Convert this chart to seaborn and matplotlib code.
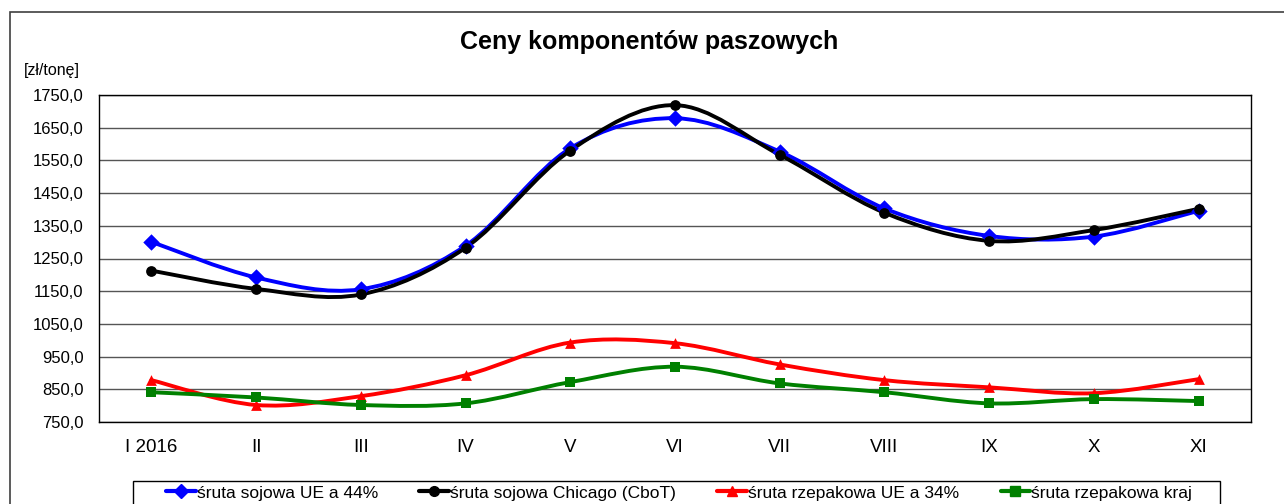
import matplotlib
matplotlib.use("Agg")
import matplotlib.pyplot as plt
import numpy as np
import seaborn as sns
from matplotlib.path import Path
from matplotlib.patches import PathPatch, Rectangle
from matplotlib.lines import Line2D

# monthly prices of feed components [zł/tonę]
months = ["I 2016", "II", "III", "IV", "V", "VI", "VII", "VIII", "IX", "X", "XI"]
soja_ue = [1301, 1192, 1156, 1289, 1587, 1679, 1577, 1403, 1319, 1317, 1396]
soja_chicago = [1213, 1157, 1140, 1283, 1580, 1719, 1567, 1390, 1304, 1337, 1402]
rzepak_ue = [878, 802, 829, 893, 993, 991, 926, 878, 856, 838, 881]
rzepak_kraj = [841, 825, 802, 807, 872, 919, 868, 841, 807, 820, 814]

series_names = ["śruta sojowa UE a 44%", "śruta sojowa Chicago (CboT)",
                "śruta rzepakowa UE a 34%", "śruta rzepakowa kraj"]
series_colors = ["#0000FF", "#000000", "#FF0000", "#008000"]
series_markers = ["D", "o", "^", "s"]
y_ticks = [750, 850, 950, 1050, 1150, 1250, 1350, 1450, 1550, 1650, 1750]

sns.set_style("white")
plt.rcParams["font.family"] = ["Liberation Sans", "DejaVu Sans"]
plt.rcParams["text.color"] = "black"
plt.rcParams["xtick.color"] = "black"
plt.rcParams["ytick.color"] = "black"


# Excel-like smoothed line: bezier through the data points
def smooth_path(xs, ys):
    pts = np.column_stack([xs, ys]).astype(float)
    n = len(pts)
    verts = [pts[0]]
    codes = [Path.MOVETO]
    for i in range(n - 1):
        p0 = pts[max(i - 1, 0)]
        p1 = pts[i]
        p2 = pts[i + 1]
        p3 = pts[min(i + 2, n - 1)]
        verts += [p1 + (p2 - p0) / 6, p2 - (p3 - p1) / 6, p2]
        codes += [Path.CURVE4] * 3
    return Path(verts, codes)


fig = plt.figure(figsize=(12.84, 5.04), dpi=100)
ax = fig.add_axes([99 / 1284, 1 - 422 / 504, (1251 - 99) / 1284, (422 - 95) / 504])

x = np.arange(len(months))
all_series = [soja_ue, soja_chicago, rzepak_ue, rzepak_kraj]
for vals, name, col, mk in zip(all_series, series_names, series_colors, series_markers):
    ax.add_patch(PathPatch(smooth_path(x, vals), facecolor="none", edgecolor=col,
                           lw=2.8, zorder=3, capstyle="round", joinstyle="round"))
    ms = 70 if mk == "D" else 60
    sns.scatterplot(x=x, y=vals, ax=ax, marker=mk, color=col, s=ms,
                    edgecolor=col, linewidth=0, zorder=4, legend=False)

ax.set_xlim(-0.5, 10.5)
ax.set_ylim(750, 1750)
ax.set_yticks(y_ticks)
ax.set_yticklabels([f"{v:.1f}".replace(".", ",") for v in y_ticks])
ax.set_xticks(np.arange(-0.5, 11, 1))
ax.set_xticklabels([])
ax.set_xticks(x, minor=True)
ax.set_xticklabels(months, minor=True)
ax.tick_params(axis="x", which="major", direction="out", length=5, width=1, color="black")
ax.tick_params(axis="x", which="minor", length=0, pad=12, labelsize=13.5)
ax.tick_params(axis="y", direction="out", length=4, width=1, color="black", pad=7, labelsize=12)
ax.set_xlabel("")
ax.set_ylabel("")
ax.yaxis.grid(True, color="#555555", lw=1)
ax.set_axisbelow(True)
for sp in ax.spines.values():
    sp.set_color("black")
    sp.set_linewidth(1)

fig.text(649 / 1284, 1 - 42 / 504, "Ceny komponentów paszowych", ha="center", va="center",
         fontsize=18, fontweight="bold")
fig.text(24 / 1284, 1 - 71 / 504, "[zł/tonę]", ha="left", va="center", fontsize=11.5)

# outer chart border (right and bottom edges fall outside the image)
fig.patches.append(Rectangle((10 / 1284, -0.2), 1.2, 1.2 - 12 / 504, transform=fig.transFigure,
                             fill=False, edgecolor="#404040", lw=1.2))
# legend box
fig.patches.append(Rectangle((133 / 1284, -0.2), (1220 - 133) / 1284, 0.2 + 1 - 481 / 504,
                             transform=fig.transFigure, fill=False, edgecolor="black", lw=1))

handles = [Line2D([0], [0], color=c, lw=3, marker=m, markersize=7) for c, m in
           zip(series_colors, series_markers)]
fig.legend(handles, series_names, loc="center", bbox_to_anchor=(679 / 1284, 1 - 493 / 504),
           ncol=4, frameon=False, handlelength=1.7, handletextpad=0.05, columnspacing=2.4,
           prop={"family": ["Liberation Sans Narrow", "Liberation Sans"], "size": 12.5})

fig.savefig("out.png", dpi=100)
